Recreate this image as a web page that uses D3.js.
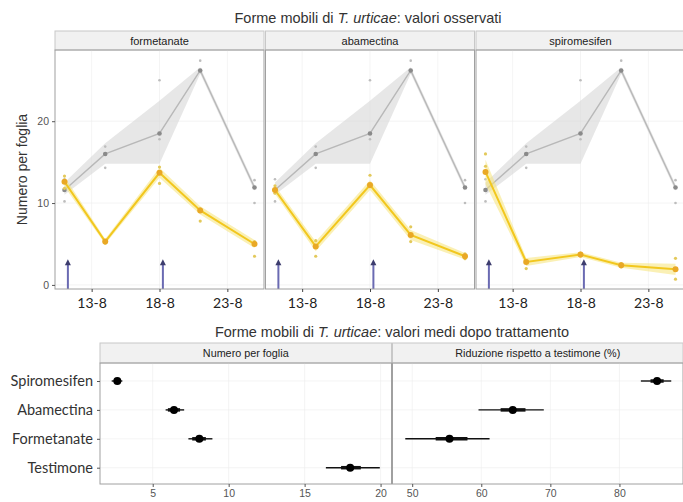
<!DOCTYPE html>
<html>
<head>
<meta charset="utf-8">
<script src="https://cdn.jsdelivr.net/npm/d3@7"></script>
<style>
  body { margin: 0; background: #fff; }
  svg { display: block; font-family: "Liberation Sans", Arial, sans-serif; }
</style>
</head>
<body>
<svg id="chart" width="683" height="502"></svg>
<script>
// ---- data: top chart (days of August) ----
const days = [11, 14, 18, 21, 25];
const dayTicks = [13, 18, 23];
const arrowDays = [11.25, 18.25];
const panelNames = ["formetanate", "abamectina", "spiromesifen"];

const controlMean = [11.6, 16.0, 18.5, 26.2, 11.9];
const controlLo = [11.0, 14.8, 14.8, 25.8, 11.5];
const controlHi = [12.5, 17.3, 22.5, 26.6, 12.3];
const controlObs = [[10.2, 11.6, 12.9], [14.3, 16.0, 16.9], [17.8, 18.5, 25.0], [26.0, 26.2, 27.4], [10.0, 11.9, 12.8]];

const formMean = [12.6, 5.3, 13.7, 9.1, 5.0];
const formLo = [12.0, 5.0, 13.1, 8.6, 4.5];
const formHi = [13.2, 5.6, 14.3, 9.6, 5.5];
const formObs = [[11.8, 12.6, 13.3], [5.1, 5.3, 5.4], [12.4, 13.7, 14.4], [7.8, 9.1, 9.3], [3.5, 4.9, 5.3]];

const abaMean = [11.6, 4.7, 12.2, 6.1, 3.5];
const abaLo = [11.1, 4.1, 11.6, 5.5, 3.1];
const abaHi = [12.1, 5.3, 12.8, 6.7, 3.9];
const abaObs = [[11.2, 11.6, 12.1], [3.5, 4.7, 5.4], [12.0, 12.2, 13.4], [5.3, 6.1, 7.1], [3.2, 3.5, 3.8]];

const spiroMean = [13.8, 2.8, 3.7, 2.4, 1.9];
const spiroLo = [12.3, 2.3, 3.4, 2.1, 1.2];
const spiroHi = [15.3, 3.3, 4.0, 2.7, 2.6];
const spiroObs = [[13.8, 14.5, 16.0], [2.0, 2.8, 3.0], [3.5, 3.7, 3.9], [2.2, 2.4, 2.6], [0.7, 1.9, 3.25]];

// ---- data: bottom chart ----
const treatments = ["Spiromesifen", "Abamectina", "Formetanate", "Testimone"];
const numMean = [2.67, 6.4, 8.07, 18.0];
const numLo = [2.3, 5.85, 7.35, 16.4];
const numHi = [3.0, 7.07, 8.93, 19.95];
const numLo50 = [2.5, 6.0, 7.6, 17.4];
const numHi50 = [2.85, 6.8, 8.5, 18.7];
const redMean = [85.45, 64.56, 55.4, null];
const redLo = [83.1, 59.6, 49.0, null];
const redHi = [87.5, 69.05, 61.2, null];
const redLo50 = [84.5, 62.8, 53.4, null];
const redHi50 = [86.4, 66.4, 58.0, null];

const svg = d3.select("#chart");
const grid = "#ededed", border = "#a0a0a0", stripFill = "#f1f1f1";
const gold = "#f2c71e", goldDot = "#e9a825", goldBand = "rgba(245,228,120,0.55)";

// ================= top chart =================
const treatSeries = [
  { mean: formMean, lo: formLo, hi: formHi, obs: formObs },
  { mean: abaMean, lo: abaLo, hi: abaHi, obs: abaObs },
  { mean: spiroMean, lo: spiroLo, hi: spiroHi, obs: spiroObs }
];

const pTop = 50, pBottom = 289, pw = 209;
const panelX = [55, 265.5, 476];
const y = d3.scaleLinear().domain([-0.5, 28.7]).range([pBottom, pTop]);

svg.append("text").attr("x", 368).attr("y", 23).attr("text-anchor", "middle")
  .attr("font-size", 14.5).attr("fill", "#333")
  .call(t => {
    t.append("tspan").text("Forme mobili di ");
    t.append("tspan").attr("font-style", "italic").text("T. urticae");
    t.append("tspan").text(": valori osservati");
  });

panelNames.forEach((name, p) => {
  const x0 = panelX[p];
  const x = d3.scaleLinear().domain([10.3, 25.7]).range([x0, x0 + pw]);
  const g = svg.append("g");

  // strip
  g.append("rect").attr("x", x0).attr("y", 31).attr("width", pw).attr("height", pTop - 31)
    .attr("fill", stripFill).attr("stroke", "#c8c8c8");
  g.append("text").attr("x", x0 + pw / 2).attr("y", 44.5).attr("text-anchor", "middle")
    .attr("font-size", 11).attr("fill", "#222").text(name);

  // grid
  g.selectAll(".gx").data(dayTicks).join("line")
    .attr("x1", d => x(d)).attr("x2", d => x(d)).attr("y1", pTop).attr("y2", pBottom)
    .attr("stroke", grid).attr("stroke-width", 0.6);
  g.selectAll(".gy").data([0, 10, 20]).join("line")
    .attr("x1", x0).attr("x2", x0 + pw).attr("y1", d => y(d)).attr("y2", d => y(d))
    .attr("stroke", grid).attr("stroke-width", 0.6);

  // control band + line
  const idx = d3.range(days.length);
  g.append("path").datum(idx)
    .attr("d", d3.area().x(i => x(days[i])).y0(i => y(controlLo[i])).y1(i => y(controlHi[i])))
    .attr("fill", "rgba(215,215,215,0.6)");
  g.append("path").datum(idx)
    .attr("d", d3.line().x(i => x(days[i])).y(i => y(controlMean[i])))
    .attr("fill", "none").attr("stroke", "#b8b8b8").attr("stroke-width", 1.4);
  controlObs.forEach((vals, i) => {
    g.selectAll(null).data(vals).join("circle")
      .attr("cx", x(days[i])).attr("cy", d => y(d)).attr("r", 1.3).attr("fill", "#bdbdbd");
  });
  g.selectAll(null).data(idx).join("circle")
    .attr("cx", i => x(days[i])).attr("cy", i => y(controlMean[i])).attr("r", 2.3)
    .attr("fill", "#8a8a8a");

  // treatment band + line
  const s = treatSeries[p];
  g.append("path").datum(idx)
    .attr("d", d3.area().x(i => x(days[i])).y0(i => y(s.lo[i])).y1(i => y(s.hi[i])))
    .attr("fill", goldBand);
  g.append("path").datum(idx)
    .attr("d", d3.line().x(i => x(days[i])).y(i => y(s.mean[i])))
    .attr("fill", "none").attr("stroke", gold).attr("stroke-width", 2);
  s.obs.forEach((vals, i) => {
    g.selectAll(null).data(vals).join("circle")
      .attr("cx", x(days[i])).attr("cy", d => y(d)).attr("r", 1.6).attr("fill", "#e3c95a");
  });
  g.selectAll(null).data(idx).join("circle")
    .attr("cx", i => x(days[i])).attr("cy", i => y(s.mean[i])).attr("r", 3)
    .attr("fill", goldDot);

  // arrows
  arrowDays.forEach(d => {
    g.append("line").attr("x1", x(d)).attr("x2", x(d)).attr("y1", pBottom).attr("y2", y(3) + 3)
      .attr("stroke", "#6a6ab2").attr("stroke-width", 2);
    g.append("path")
      .attr("d", `M${x(d) - 3},${y(3) + 5}L${x(d)},${y(3) - 1}L${x(d) + 3},${y(3) + 5}Z`)
      .attr("fill", "#3d3d6e");
  });

  // border
  g.append("rect").attr("x", x0).attr("y", pTop).attr("width", pw).attr("height", pBottom - pTop)
    .attr("fill", "none").attr("stroke", border);

  // x axis
  const ax = g.append("g").attr("transform", `translate(0,${pBottom})`)
    .call(d3.axisBottom(x).tickValues(dayTicks).tickSize(3).tickPadding(6).tickFormat(d => d + "-8"));
  ax.select(".domain").remove();
  ax.selectAll("line").attr("stroke", "#444");
  ax.selectAll("text").attr("font-family", "Lato, 'Noto Sans', sans-serif")
    .attr("font-size", 14).attr("fill", "#222");
});

// y axis top
const ay = svg.append("g").attr("transform", `translate(${panelX[0]},0)`)
  .call(d3.axisLeft(y).tickValues([0, 10, 20]).tickSize(3).tickPadding(3));
ay.select(".domain").remove();
ay.selectAll("line").attr("stroke", "#555");
ay.selectAll("text").attr("font-size", 10.5).attr("fill", "#555");

svg.append("text").attr("transform", `translate(27,${(pTop + pBottom) / 2}) rotate(-90)`)
  .attr("text-anchor", "middle").attr("font-size", 14).attr("fill", "#333")
  .text("Numero per foglia");

// ================= bottom chart =================
svg.append("text").attr("x", 392).attr("y", 337).attr("text-anchor", "middle")
  .attr("font-size", 14.5).attr("fill", "#333")
  .call(t => {
    t.append("tspan").text("Forme mobili di ");
    t.append("tspan").attr("font-style", "italic").text("T. urticae");
    t.append("tspan").text(": valori medi dopo trattamento");
  });

const bTop = 363, bBottom = 484;
const yb = d3.scalePoint().domain(treatments).range([381, 467.7]);

const bottomPanels = [
  { title: "Numero per foglia", x0: 100, x1: 391.5, domain: [1.53, 20.72], ticks: [5, 10, 15, 20],
    mean: numMean, lo: numLo, hi: numHi, lo50: numLo50, hi50: numHi50 },
  { title: "Riduzione rispetto a testimone (%)", x0: 392.5, x1: 683, domain: [47.15, 89.2], ticks: [50, 60, 70, 80],
    mean: redMean, lo: redLo, hi: redHi, lo50: redLo50, hi50: redHi50 }
];

bottomPanels.forEach(bp => {
  const x = d3.scaleLinear().domain(bp.domain).range([bp.x0, bp.x1]);
  const g = svg.append("g");
  g.append("rect").attr("x", bp.x0).attr("y", 343).attr("width", bp.x1 - bp.x0).attr("height", bTop - 343)
    .attr("fill", stripFill).attr("stroke", "#c8c8c8");
  g.append("text").attr("x", (bp.x0 + bp.x1) / 2).attr("y", 357).attr("text-anchor", "middle")
    .attr("font-size", 10.8).attr("fill", "#222").text(bp.title);

  g.selectAll(null).data(bp.ticks).join("line")
    .attr("x1", d => x(d)).attr("x2", d => x(d)).attr("y1", bTop).attr("y2", bBottom)
    .attr("stroke", grid).attr("stroke-width", 0.6);
  g.selectAll(null).data(treatments).join("line")
    .attr("x1", bp.x0).attr("x2", bp.x1).attr("y1", d => yb(d)).attr("y2", d => yb(d))
    .attr("stroke", grid).attr("stroke-width", 0.6);

  const idx = d3.range(treatments.length).filter(i => bp.mean[i] != null);
  g.selectAll(null).data(idx).join("line")
    .attr("x1", i => x(bp.lo[i])).attr("x2", i => x(bp.hi[i]))
    .attr("y1", i => yb(treatments[i])).attr("y2", i => yb(treatments[i]))
    .attr("stroke", "#111").attr("stroke-width", 1.4);
  g.selectAll(null).data(idx).join("line")
    .attr("x1", i => x(bp.lo50[i])).attr("x2", i => x(bp.hi50[i]))
    .attr("y1", i => yb(treatments[i])).attr("y2", i => yb(treatments[i]))
    .attr("stroke", "#111").attr("stroke-width", 3.5);
  g.selectAll(null).data(idx).join("circle")
    .attr("cx", i => x(bp.mean[i])).attr("cy", i => yb(treatments[i])).attr("r", 4)
    .attr("fill", "#000");

  g.append("rect").attr("x", bp.x0).attr("y", bTop).attr("width", bp.x1 - bp.x0).attr("height", bBottom - bTop)
    .attr("fill", "none").attr("stroke", border);

  const ax = g.append("g").attr("transform", `translate(0,${bBottom})`)
    .call(d3.axisBottom(x).tickValues(bp.ticks).tickSize(3).tickPadding(3));
  ax.select(".domain").remove();
  ax.selectAll("line").attr("stroke", "#555");
  ax.selectAll("text").attr("font-size", 10.5).attr("fill", "#555");
});

const ayb = svg.append("g").attr("transform", "translate(100,0)")
  .call(d3.axisLeft(yb).tickSize(3).tickPadding(4));
ayb.select(".domain").remove();
ayb.selectAll("line").attr("stroke", "#555");
ayb.selectAll("text").attr("font-family", "Lato, 'Noto Sans', sans-serif")
  .attr("font-size", 14.5).attr("fill", "#333");
</script>
</body>
</html>
